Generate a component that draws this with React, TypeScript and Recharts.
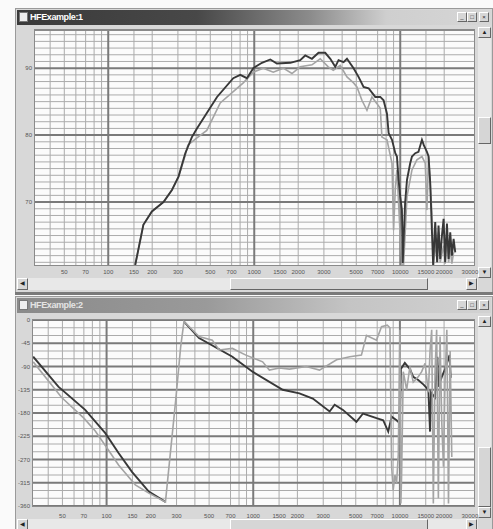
import React from 'react'
import { LineChart, Line, XAxis, YAxis, CartesianGrid } from 'recharts'

// frequency axis (shared)
const xTicks = [50, 70, 100, 150, 200, 300, 500, 700, 1000, 1500, 2000, 3000, 5000, 7000, 10000, 15000, 20000, 30000]
const xMinor = [40, 50, 60, 70, 80, 90, 150, 200, 300, 400, 500, 700, 800, 900, 1500, 2000, 3000, 4000, 5000, 7000, 8000, 9000, 15000, 20000]
const xMajor = [100, 1000, 10000]

// magnitude window
const magTicks = [70, 80, 90]
const magMinor = [61, 62, 63, 64, 65, 66, 67, 68, 69, 71, 72, 73, 74, 75, 76, 77, 78, 79, 81, 82, 83, 84, 85, 86, 87, 88, 89, 91, 92, 93, 94, 95]

const magDark: [number, number][] = [
  [153, 60.6], [174, 66.6], [199, 68.6], [239, 70.0], [273, 71.8], [303, 73.8], [337, 77.3], [374, 79.7],
  [405, 81.0], [556, 85.7], [718, 88.5], [802, 89.0], [891, 88.5], [985, 90.0], [1129, 90.8], [1288, 91.3],
  [1429, 90.7], [1766, 90.8], [2065, 91.2], [2235, 91.9], [2484, 91.4], [2755, 92.3], [3062, 92.3],
  [3318, 91.4], [3589, 90.2], [3778, 91.2], [4090, 90.9], [4316, 91.4], [4790, 90.0], [5180, 88.7],
  [5606, 87.2], [6070, 87.0], [6745, 85.7], [7295, 85.7], [7690, 85.2], [8110, 83.2], [8325, 80.3],
  [8780, 79.3], [9250, 77.3], [9490, 76.8], [9740, 73.3], [10000, 70.8], [10270, 68.8], [10400, 60.9],
  [10800, 69.9], [11120, 73.3], [11700, 75.8], [12030, 76.8], [12670, 77.3], [13330, 77.5], [14080, 79.3],
  [14500, 78.5], [15230, 77.5], [15630, 76.8], [16050, 72.8], [16470, 65.8], [16800, 60.6], [17360, 67.0],
  [17900, 61.0], [18290, 66.5], [18780, 61.5], [19300, 65.0], [19810, 67.5], [20300, 61.0], [20890, 66.8],
  [21440, 61.5], [22000, 65.5], [22580, 62.0], [23200, 64.5], [23810, 62.5],
]

const magLight: [number, number][] = [
  [153, 60.6], [174, 66.6], [199, 68.6], [239, 70.0], [273, 71.8], [303, 73.8], [337, 77.0], [351, 78.5],
  [405, 79.6], [473, 80.7], [585, 84.8], [718, 86.5], [841, 87.8], [985, 89.4], [1153, 90.0], [1350, 89.4],
  [1580, 90.0], [1813, 89.2], [2065, 90.2], [2484, 90.5], [2830, 91.4], [3212, 90.2], [3477, 89.7],
  [3880, 90.4], [4316, 88.7], [4790, 87.8], [5050, 87.2], [5465, 85.2], [5915, 83.7], [6400, 85.7],
  [6925, 84.7], [7295, 84.0], [7490, 79.7], [8110, 79.3], [8780, 75.8], [9000, 65.8], [9250, 72.0],
  [9490, 74.8], [10000, 64.8], [10270, 60.6], [10540, 60.6], [11120, 70.8], [12030, 74.8], [13000, 76.3],
  [14080, 76.8], [14830, 75.8], [15230, 68.8], [15630, 76.8], [16470, 68.4], [16900, 60.6], [17360, 64.0],
  [17900, 61.0], [18290, 65.5], [18780, 61.0], [19810, 63.5], [20300, 60.8], [20890, 64.5], [21440, 61.0],
  [22000, 63.0], [22580, 60.8], [23200, 62.5],
]

// phase window
const phaseTicks = [-360, -315, -270, -225, -180, -135, -90, -45, 0]
const phaseMinor = [-345, -330, -300, -285, -255, -240, -210, -195, -165, -150, -120, -105, -75, -60, -30, -15]

const phaseDarkLow: [number, number][] = [
  [31.6, -71], [46.9, -129], [71.5, -174], [98, -219], [121, -258], [149, -294], [194, -332], [252, -352],
]
const phaseDarkHigh: [number, number][] = [
  [337, -3], [427, -35], [721, -71], [989, -100], [1588, -135], [2065, -142], [2547, -152], [3318, -177],
  [3589, -164], [4090, -174], [5050, -197], [5606, -181], [6925, -190], [7690, -194], [8325, -216],
  [8780, -187], [9490, -194], [10000, -200], [10150, -95], [10800, -83], [11700, -95], [12330, -110],
  [13330, -116], [14500, -125], [15630, -135], [16050, -216], [16300, -140], [17360, -150], [18000, -71],
  [18290, -129], [19300, -110], [20300, -95], [21800, -68], [22200, -112],
]
const phaseLight: [number, number][] = [
  [31.6, -81], [49.4, -150], [70, -190], [83.7, -215], [98, -243], [121, -281], [157, -319], [194, -335],
  [252, -352], [296, -155], [320, -52], [337, -3], [427, -32], [526, -39], [585, -58], [721, -55],
  [891, -68], [1159, -81], [1288, -97], [1507, -93], [1766, -95], [2300, -90], [2830, -97], [3700, -77],
  [4550, -71], [5465, -68], [5915, -30], [6925, -39], [7490, -13], [8200, -10], [8550, -15], [8700, -200],
  [8780, -284], [9000, -329], [9250, -300], [9490, -316], [9750, -260], [10000, -19], [10150, -355],
  [10270, -300], [10540, -100], [11120, -135], [11700, -90], [12330, -120], [13330, -110], [14080, -100],
  [14830, -84], [15630, -140], [16050, -60], [16470, -19], [16900, -355], [17360, -100], [17800, -19],
  [18290, -345], [18780, -32], [19300, -200], [19810, -284], [20300, -120], [20890, -19], [21440, -355],
  [22000, -60], [22580, -265],
]

const pts = (arr: [number, number][]) => arr.map(([f, v]) => ({ f, v }))

const DARK = '#383838'
const LIGHT = '#a4a4a4'
const FONT = 'Liberation Sans, Arial, sans-serif'
const tickStyle = { fontSize: 6, fill: '#555', fontFamily: FONT }

const box = (s: React.CSSProperties): React.CSSProperties => ({ position: 'absolute', boxSizing: 'border-box', ...s })
const btn = (s: React.CSSProperties): React.CSSProperties =>
  box({
    background: '#d6d6d6',
    borderTop: '1px solid #fff',
    borderLeft: '1px solid #fff',
    borderRight: '1px solid #666',
    borderBottom: '1px solid #666',
    fontSize: 6,
    lineHeight: '9px',
    textAlign: 'center',
    color: '#222',
    fontFamily: FONT,
    ...s,
  })

function Chrome({ top, height, title, active, thumbTop, thumbH, vTop, vBottom, hTop }: any) {
  return (
    <>
      <div style={box({ left: 15, top, width: 478, height, background: '#d8d8d8', border: '1px solid #9a9a9a' })} />
      <div
        style={box({
          left: 17,
          top: top + 2,
          width: 474,
          height: 15,
          background: active
            ? 'linear-gradient(to right, #3a3a3a 0%, #484848 38%, #8c8c8c 62%, #cfcfcf 78%, #d6d6d6 100%)'
            : 'linear-gradient(to right, #8a8a8a 0%, #9a9a9a 40%, #c4c4c4 70%, #d2d2d2 100%)',
        })}
      />
      <div style={box({ left: 19, top: top + 4, width: 9, height: 10, background: '#eee', border: '1px solid #777' })} />
      <div
        style={box({
          left: 30,
          top: top + 3,
          fontFamily: FONT,
          fontSize: 9,
          fontWeight: 'bold',
          color: active ? '#fff' : '#e4e4e4',
          lineHeight: '12px',
          letterSpacing: -0.4,
        })}
      >
        {title}
      </div>
      <div style={btn({ left: 457, top: top + 4, width: 10, height: 10 })}>_</div>
      <div style={btn({ left: 467, top: top + 4, width: 10, height: 10 })}>□</div>
      <div style={btn({ left: 479, top: top + 4, width: 10, height: 10 })}>×</div>
      {/* vertical scrollbar */}
      <div style={box({ left: 478, top: vTop, width: 13, height: vBottom - vTop, background: '#e8e8e8' })} />
      <div style={btn({ left: 478, top: vTop, width: 13, height: 11 })}>▲</div>
      <div style={btn({ left: 478, top: thumbTop, width: 13, height: thumbH })} />
      <div style={btn({ left: 478, top: vBottom - 11, width: 13, height: 11 })}>▼</div>
      {/* horizontal scrollbar */}
      <div style={box({ left: 17, top: hTop, width: 461, height: 12, background: '#e8e8e8' })} />
      <div style={btn({ left: 17, top: hTop, width: 11, height: 12 })}>◀</div>
      <div style={btn({ left: 230, top: hTop, width: 198, height: 12 })} />
      <div style={btn({ left: 466, top: hTop, width: 11, height: 12 })}>▶</div>
    </>
  )
}

function Plot({ lines, yDomain, yTicks, yMinor, yWidth, height, xTickSize, xTickMargin, xHeight }: any) {
  return (
    <LineChart width={493} height={height} margin={{ top: 30, right: 19, bottom: 0, left: 0 }}>
      <CartesianGrid
        fill="#fbfbfb"
        stroke="#ababab"
        strokeWidth={1}
        horizontalValues={yMinor}
        verticalValues={xMinor}
      />
      <CartesianGrid stroke="#7a7a7a" strokeWidth={2} horizontalValues={yTicks} verticalValues={xMajor} />
      <XAxis
        dataKey="f"
        type="number"
        scale="log"
        domain={[31.5, 32000]}
        allowDataOverflow
        ticks={xTicks}
        interval={0}
        tickLine={false}
        axisLine={false}
        height={xHeight}
        tickSize={xTickSize}
        tickMargin={xTickMargin}
        tick={tickStyle}
      />
      <YAxis
        type="number"
        domain={yDomain}
        allowDataOverflow
        ticks={yTicks}
        interval={0}
        tickLine={false}
        axisLine={false}
        width={yWidth}
        tickSize={0}
        tickMargin={3}
        tick={tickStyle}
      />
      {lines.map((l: any, i: number) => (
        <Line
          key={i}
          data={pts(l.data)}
          dataKey="v"
          type="linear"
          stroke={l.color}
          strokeWidth={l.width}
          dot={false}
          isAnimationActive={false}
        />
      ))}
    </LineChart>
  )
}

export default function App() {
  return (
    <div style={{ position: 'absolute', left: 0, top: 0, width: 493, height: 529, overflow: 'hidden', background: '#fafafa' }}>
      <Chrome top={8} height={286} title="HFExample:1" active thumbTop={117} thumbH={27} vTop={27} vBottom={278} hTop={278} />
      <Chrome top={296} height={240} title="HFExample:2" active={false} thumbTop={447} thumbH={60} vTop={316} vBottom={518} hTop={519} />
      <div style={box({ left: 15, top: 292, width: 478, height: 3, background: '#7a7a7a' })} />

      <div style={{ position: 'absolute', left: 0, top: 0 }}>
        <Plot
          height={290}
          yDomain={[60.6, 95.7]}
          yTicks={magTicks}
          yMinor={magMinor}
          yWidth={35}
          xHeight={25}
          xTickSize={0}
          xTickMargin={5}
          lines={[
            { data: magLight, color: LIGHT, width: 1.6 },
            { data: magDark, color: DARK, width: 1.9 },
          ]}
        />
      </div>
      <div style={box({ left: 34, top: 29, width: 441, height: 237, border: '1px solid #8a8a8a', borderTop: '2px solid #8a8a8a' })} />

      <div style={{ position: 'absolute', left: 0, top: 290 }}>
        <Plot
          height={239}
          yDomain={[-360, 0]}
          yTicks={phaseTicks}
          yMinor={phaseMinor}
          yWidth={33}
          xHeight={23}
          xTickSize={6}
          xTickMargin={2}
          lines={[
            { data: phaseDarkLow, color: DARK, width: 1.9 },
            { data: phaseDarkHigh, color: DARK, width: 1.9 },
            { data: phaseLight, color: LIGHT, width: 1.6 },
          ]}
        />
      </div>
      <div style={box({ left: 32, top: 319, width: 443, height: 188, border: '1px solid #8a8a8a' })} />
    </div>
  )
}
